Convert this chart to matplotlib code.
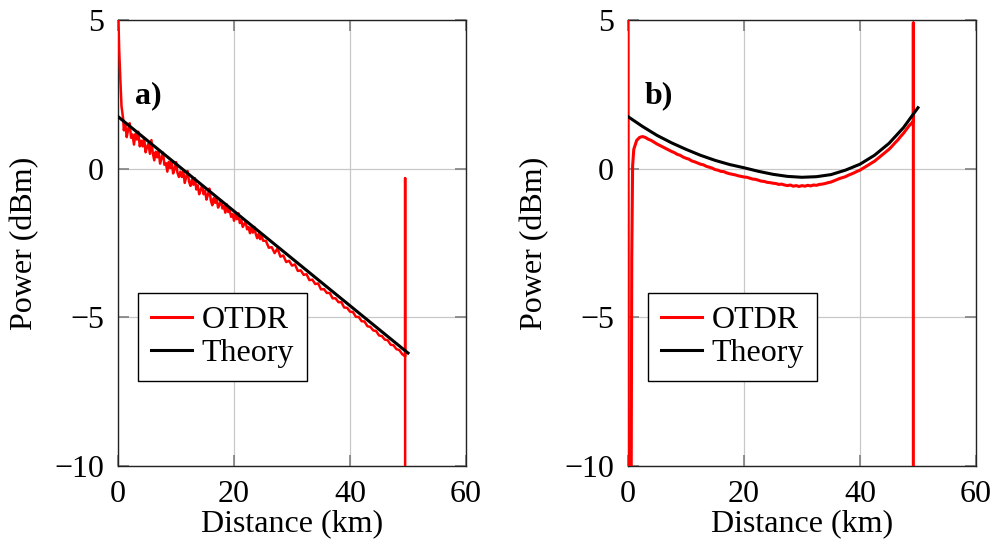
import numpy as np
import matplotlib.pyplot as plt

plt.rcParams['font.family'] = ['Liberation Serif', 'DejaVu Serif']

# panel a) -- OTDR trace (km, dBm)
xa_otdr = [0.0, 0.2, 0.4, 0.6, 0.9,
           1.0, 1.25, 1.5, 1.75, 2.0, 2.25, 2.5, 2.75, 3.0, 3.25, 3.5, 3.75, 4.0, 4.25,
           4.5, 4.75, 5.0, 5.25, 5.5, 5.75, 6.0, 6.25, 6.5, 6.75, 7.0, 7.25, 7.5, 7.75,
           8.0, 8.25, 8.5, 8.75, 9.0, 9.25, 9.5, 9.75, 10.0, 10.25, 10.5, 10.75, 11.0,
           11.25, 11.5, 11.75, 12.0, 12.25, 12.5, 12.75, 13.0, 13.25, 13.5, 13.75, 14.0,
           14.25, 14.5, 14.75, 15.0, 15.25, 15.5, 15.75, 16.0, 16.25, 16.5, 16.75, 17.0,
           17.25, 17.5, 17.75, 18.0, 18.25, 18.5, 18.75, 19.0, 19.25, 19.5, 19.75, 20.0,
           20.25, 20.5, 20.75, 21.0, 21.25, 21.5, 21.75, 22.0, 22.25, 22.5, 22.75, 23.0,
           23.25, 23.5, 23.75, 24.0, 24.25, 24.5, 24.75, 25.0,
           25.5, 26.0, 26.5, 27.0, 27.5, 28.0, 28.5, 29.0, 29.5, 30.0, 30.5, 31.0, 31.5,
           32.0, 32.5, 33.0, 33.5, 34.0, 34.5, 35.0, 35.5, 36.0, 36.5, 37.0, 37.5, 38.0,
           38.5, 39.0, 39.5, 40.0, 40.5, 41.0, 41.5, 42.0, 42.5, 43.0, 43.5, 44.0, 44.5,
           45.0, 45.5, 46.0, 46.5, 47.0, 47.5, 48.0, 48.5, 49.0, 49.5, 49.5, 49.5]
ya_otdr = [5.5, 4.0, 3.0, 2.1, 1.65,
           1.29, 1.50, 1.06, 1.32, 1.53, 1.04, 1.15, 0.81, 1.17, 0.98, 1.24, 0.75, 0.94,
           0.75, 1.03, 0.55, 0.73, 0.84, 0.50, 0.96, 0.52, 0.28, 0.57, 0.38, 0.59, 0.17,
           0.36, 0.54, 0.13, 0.19, -0.10, 0.23, 0.02, 0.25, -0.16, -0.03, 0.22, -0.14,
           -0.28, -0.10, -0.28, -0.08, -0.48, -0.28, -0.08, -0.44, -0.58, -0.36, -0.54,
           -0.32, -0.70, -0.56, -0.86, -0.72, -0.56, -0.86, -0.74, -1.04, -0.88, -0.67,
           -1.07, -1.23, -0.99, -1.15, -0.99, -1.31, -1.21, -1.07, -1.34, -1.26, -1.48,
           -1.20, -1.46, -1.39, -1.62, -1.52, -1.75, -1.52, -1.70, -1.50, -1.83, -1.73,
           -1.96, -1.87, -1.78, -2.04, -1.96, -2.17, -1.97, -2.15, -1.96, -2.20, -2.34,
           -2.20, -2.37, -2.23, -2.42,
           -2.43, -2.66, -2.64, -2.84, -2.68, -2.96, -2.92, -3.14, -3.10, -3.26, -3.22,
           -3.44, -3.42, -3.57, -3.55, -3.75, -3.73, -3.88, -3.86, -4.06, -4.05, -4.18,
           -4.18, -4.36, -4.36, -4.49, -4.49, -4.67, -4.68, -4.81, -4.82, -4.98, -4.99,
           -5.13, -5.14, -5.30, -5.32, -5.44, -5.46, -5.61, -5.63, -5.75, -5.77, -5.92,
           -5.94, -6.07, -6.10, -6.24, -6.31, -0.32, -11.0]

# panel a) -- theory
xa_theory = [0, 50]
ya_theory = [1.75, -6.2]

# panel b) -- OTDR trace
xb_otdr = [0.0, 0.05, 0.55, 0.65, 0.8, 1.0, 1.5, 2.0, 2.5, 3.0, 3.5, 4.0, 4.5, 5.0, 5.5,
           6.0, 6.5, 7.0, 7.5, 8.0, 8.5, 9.0, 9.5, 10.0, 10.5, 11.0, 11.5, 12.0, 12.5,
           13.0, 13.5, 14.0, 14.5, 15.0, 15.5, 16.0, 16.5, 17.0, 17.5, 18.0, 18.5, 19.0,
           19.5, 20.0, 20.5, 21.0, 21.5, 22.0, 22.5, 23.0, 23.5, 24.0, 24.5, 25.0, 25.5,
           26.0, 26.5, 27.0, 27.5, 28.0, 28.5, 29.0, 29.5, 30.0, 30.5, 31.0, 31.5, 32.0,
           32.5, 33.0, 33.5, 34.0, 34.5, 35.0, 35.5, 36.0, 36.5, 37.0, 37.5, 38.0, 38.5,
           39.0, 39.5, 40.0, 40.5, 41.0, 41.5, 42.0, 42.5, 43.0, 43.5, 44.0, 44.5, 45.0,
           45.5, 46.0, 46.5, 47.0, 47.5, 48.0, 48.5, 49.0, 49.2, 49.2, 49.2]
yb_otdr = [5.5, -11.0, -11.0, -3.0, 0.1, 0.65, 0.95, 1.05, 1.08, 1.05, 0.99, 0.95, 0.89,
           0.83, 0.78, 0.73, 0.68, 0.63, 0.58, 0.54, 0.48, 0.45, 0.39, 0.35, 0.32, 0.26,
           0.23, 0.19, 0.15, 0.13, 0.08, 0.05, 0.02, -0.03, -0.05, -0.09, -0.10, -0.14,
           -0.17, -0.19, -0.21, -0.24, -0.26, -0.28, -0.29, -0.32, -0.35, -0.36, -0.39,
           -0.42, -0.43, -0.46, -0.47, -0.49, -0.50, -0.53, -0.52, -0.55, -0.57, -0.55,
           -0.59, -0.57, -0.60, -0.57, -0.59, -0.56, -0.58, -0.55, -0.56, -0.53, -0.52,
           -0.50, -0.47, -0.45, -0.41, -0.37, -0.33, -0.30, -0.27, -0.22, -0.18, -0.14,
           -0.09, -0.05, 0.01, 0.07, 0.13, 0.19, 0.25, 0.33, 0.41, 0.49, 0.57, 0.65, 0.75,
           0.86, 0.96, 1.08, 1.19, 1.32, 1.45, 1.55, 1.58, 4.9, -11.0]

# panel b) -- theory
xb_theory = [0, 2.5, 5, 7.5, 10, 12.5, 15, 17.5, 20, 22.5, 25, 27.5, 30, 32.5, 35,
             37.5, 40, 42.5, 45, 47.5, 50]
yb_theory = [1.75, 1.42, 1.12, 0.87, 0.65, 0.45, 0.28, 0.14, 0.03, -0.09, -0.19, -0.26,
             -0.29, -0.27, -0.20, -0.05, 0.15, 0.45, 0.85, 1.38, 2.05]

fig = plt.figure(figsize=(9.96, 5.46), dpi=100)
ax_a = fig.add_axes([0.1185, 0.1465, 0.3494, 0.8169])
ax_b = fig.add_axes([0.6305, 0.1465, 0.3494, 0.8169])

panels = [(ax_a, xa_otdr, ya_otdr, xa_theory, ya_theory, 'a)', 1.8),
          (ax_b, xb_otdr, yb_otdr, xb_theory, yb_theory, 'b)', 2.2)]

fs = 23
for ax, xo, yo, xt, yt, tag, lw in panels:
    ax.plot(xo, yo, color='red', lw=lw, label='OTDR', zorder=3)
    ax.plot(xt, yt, color='black', lw=2.2, label='Theory', zorder=4)
    ax.set_xlim(0, 60)
    ax.set_ylim(-10, 5)
    ax.set_xticks([0, 20, 40, 60])
    ax.set_yticks([-10, -5, 0, 5])
    ax.grid(True, color='#c8c8c8', lw=0.9)
    ax.set_axisbelow(True)
    ax.tick_params(direction='in', length=8, width=1.2, color='#808080',
                   top=True, right=True, labelsize=fs, pad=10)
    for sp in ax.spines.values():
        sp.set_color('#222222')
        sp.set_linewidth(1.0)
    ax.set_xlabel('Distance (km)', fontsize=fs, labelpad=0)
    ax.set_ylabel('Power (dBm)', fontsize=fs, labelpad=11)
    ax.text(2.9, 2.45, tag, fontsize=fs, fontweight='bold', ha='left', va='center')
    leg = ax.legend(loc='upper left', bbox_to_anchor=(0.057, 0.388), fontsize=fs,
                    frameon=True, fancybox=False, framealpha=1, edgecolor='black',
                    handlelength=1.3, handletextpad=0.3, borderpad=0.4,
                    labelspacing=0.12, borderaxespad=0)
    leg.get_frame().set_linewidth(1.0)
    for h in leg.get_lines():
        h.set_linewidth(2.2)

fig.savefig('out.png', dpi=100)
